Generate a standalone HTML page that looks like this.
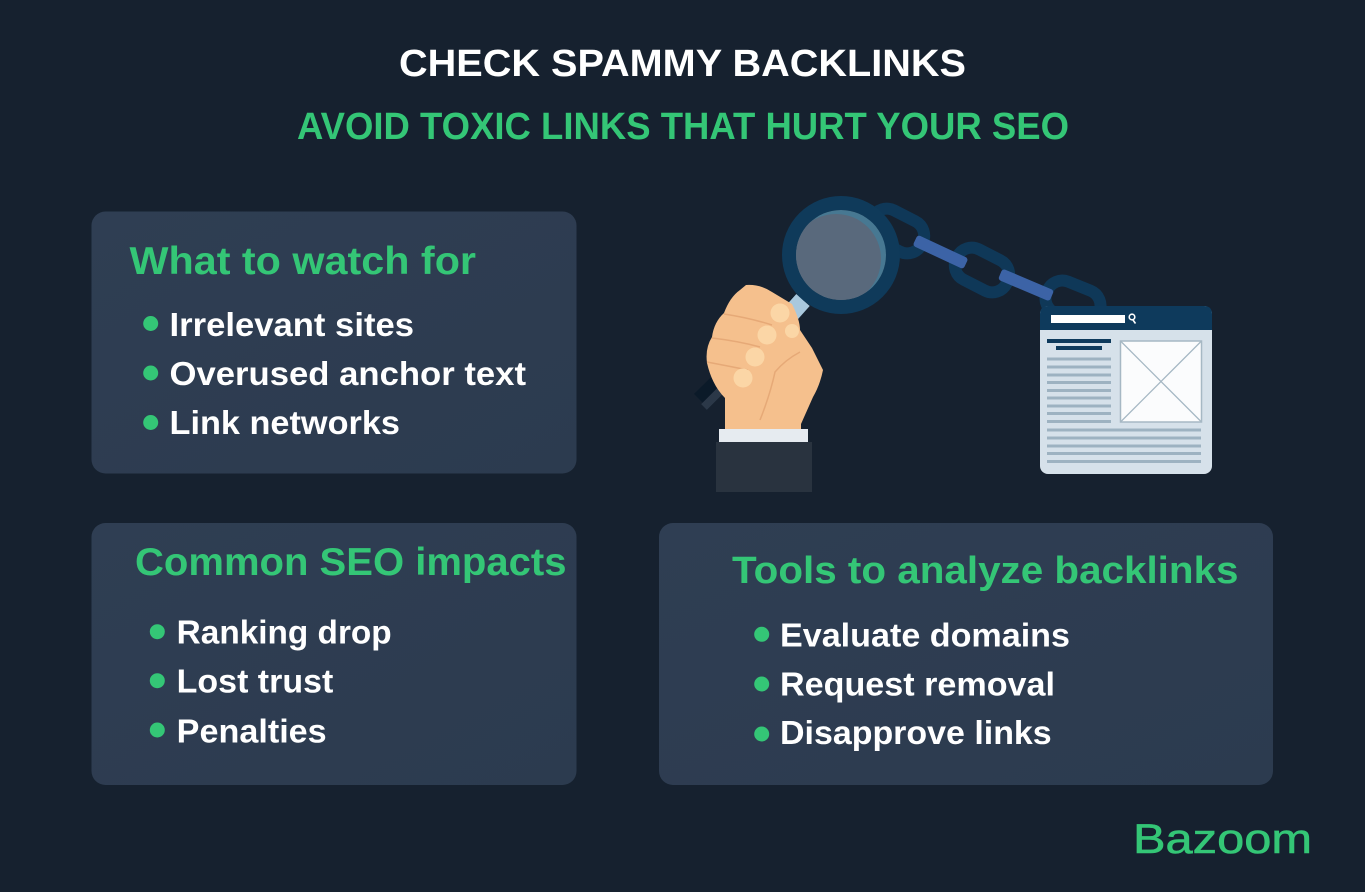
<!DOCTYPE html>
<html><head><meta charset="utf-8"><style>
html,body{margin:0;padding:0;background:#16212f;}
svg{display:block;}
text{font-family:"Liberation Sans",Arial,sans-serif;}
</style></head><body>
<svg width="1365" height="892" viewBox="0 0 1365 892" xmlns="http://www.w3.org/2000/svg">
<defs>
<linearGradient id="cg" x1="0" y1="0" x2="1" y2="1">
<stop offset="0" stop-color="#2f3e53"/><stop offset="1" stop-color="#2c3b4f"/>
</linearGradient>
<clipPath id="lensclip"><circle cx="841" cy="255" r="45"/></clipPath>
</defs>
<rect width="1365" height="892" fill="#16212f"/>

<!-- titles -->
<text x="399" y="76" font-size="38" font-weight="bold" fill="#ffffff" textLength="567" lengthAdjust="spacingAndGlyphs">CHECK SPAMMY BACKLINKS</text>
<text x="297" y="139" font-size="38" font-weight="bold" fill="#34c676" textLength="772" lengthAdjust="spacingAndGlyphs">AVOID TOXIC LINKS THAT HURT YOUR SEO</text>

<!-- cards -->
<rect x="91.5" y="211.5" width="485" height="262" rx="14" fill="url(#cg)"/>
<rect x="91.5" y="523" width="485" height="262" rx="14" fill="url(#cg)"/>
<rect x="659" y="523" width="614" height="262" rx="14" fill="url(#cg)"/>

<!-- card 1 -->
<text x="129.5" y="274" font-size="39" font-weight="bold" fill="#34c676" textLength="346.5" lengthAdjust="spacingAndGlyphs">What to watch for</text>
<circle cx="150.7" cy="323.5" r="7.5" fill="#34c676"/>
<circle cx="150.7" cy="373" r="7.5" fill="#34c676"/>
<circle cx="150.7" cy="422.5" r="7.5" fill="#34c676"/>
<text x="169.5" y="336" font-size="33" font-weight="bold" fill="#ffffff" textLength="244.5" lengthAdjust="spacingAndGlyphs">Irrelevant sites</text>
<text x="169.5" y="385" font-size="33" font-weight="bold" fill="#ffffff" textLength="356.5" lengthAdjust="spacingAndGlyphs">Overused anchor text</text>
<text x="169.5" y="434" font-size="33" font-weight="bold" fill="#ffffff" textLength="230.5" lengthAdjust="spacingAndGlyphs">Link networks</text>

<!-- card 2 -->
<text x="135" y="575" font-size="39" font-weight="bold" fill="#34c676" textLength="431.5" lengthAdjust="spacingAndGlyphs">Common SEO impacts</text>
<circle cx="157.3" cy="631.7" r="7.5" fill="#34c676"/>
<circle cx="157.3" cy="680.7" r="7.5" fill="#34c676"/>
<circle cx="157.3" cy="730" r="7.5" fill="#34c676"/>
<text x="176.7" y="643.3" font-size="33" font-weight="bold" fill="#ffffff" textLength="215" lengthAdjust="spacingAndGlyphs">Ranking drop</text>
<text x="176.7" y="692.7" font-size="33" font-weight="bold" fill="#ffffff" textLength="156.6" lengthAdjust="spacingAndGlyphs">Lost trust</text>
<text x="176.7" y="742.7" font-size="33" font-weight="bold" fill="#ffffff" textLength="150" lengthAdjust="spacingAndGlyphs">Penalties</text>

<!-- card 3 -->
<text x="732" y="583" font-size="38" font-weight="bold" fill="#34c676" textLength="506.5" lengthAdjust="spacingAndGlyphs">Tools to analyze backlinks</text>
<circle cx="761.7" cy="634.3" r="7.5" fill="#34c676"/>
<circle cx="761.7" cy="684" r="7.5" fill="#34c676"/>
<circle cx="761.7" cy="734" r="7.5" fill="#34c676"/>
<text x="780" y="646.7" font-size="33" font-weight="bold" fill="#ffffff" textLength="290" lengthAdjust="spacingAndGlyphs">Evaluate domains</text>
<text x="780" y="695.7" font-size="33" font-weight="bold" fill="#ffffff" textLength="275" lengthAdjust="spacingAndGlyphs">Request removal</text>
<text x="780" y="744" font-size="33" font-weight="bold" fill="#ffffff" textLength="271.7" lengthAdjust="spacingAndGlyphs">Disapprove links</text>

<!-- logo -->
<text x="1133" y="853" font-size="42" fill="#34c676" stroke="#34c676" stroke-width="0.6" textLength="179" lengthAdjust="spacingAndGlyphs">Bazoom</text>

<!-- ===== illustration ===== -->
<!-- chain links -->
<g fill="none" stroke="#0f3858" stroke-width="12">
<rect x="-28" y="-17" width="56" height="34" rx="16" transform="translate(897 231) rotate(27)"/>
<rect x="-28" y="-17" width="56" height="34" rx="16" transform="translate(982 270) rotate(27)"/>
<rect x="-28" y="-17" width="56" height="34" rx="16" transform="translate(1073 302) rotate(22)"/>
</g>
<!-- bars -->
<rect x="-28" y="-6" width="56" height="12" rx="3" fill="#3c63a6" transform="translate(940.5 252) rotate(25)"/>
<rect x="-28" y="-6" width="56" height="12" rx="3" fill="#3c63a6" transform="translate(1026 285) rotate(23)"/>

<!-- magnifier handle -->
<line x1="812" y1="290" x2="700" y2="400" stroke="#0b1a29" stroke-width="17"/>
<line x1="738" y1="373" x2="704" y2="407" stroke="#2b3848" stroke-width="8"/>
<line x1="803" y1="300" x2="786" y2="319" stroke="#a9c8dd" stroke-width="18"/>

<!-- lens -->
<circle cx="841" cy="255" r="52" fill="none" stroke="#0f3a5a" stroke-width="14"/>
<circle cx="841" cy="255" r="45" fill="#477892"/>
<g clip-path="url(#lensclip)"><circle cx="836" cy="259" r="45" fill="#59697c"/></g>

<!-- hand -->
<path d="M746 285 Q760 284 772 292 L792 304 Q800 320 800 330 L812 348 L823 370 Q820 385 813 397 L801 424 L801 430 L725 430 L725 398 Q712 385 707 363 Q705 348 712 337 Q714 322 724 313 Q730 297 740 290 Z" fill="#f5c08d"/>
<g stroke="#e6a977" stroke-width="1.5" fill="none">
<path d="M724 314 Q750 318 772 325"/>
<path d="M712 338 Q738 341 760 347"/>
<path d="M707 362 Q728 366 748 370"/>
<path d="M800 352 Q785 360 775 372 Q770 395 760 420"/>
</g>
<circle cx="780" cy="313" r="9.5" fill="#fbd6a6"/>
<circle cx="767" cy="335" r="9.5" fill="#fbd6a6"/>
<circle cx="755" cy="357" r="9.5" fill="#fbd6a6"/>
<circle cx="743" cy="378" r="9.5" fill="#fbd6a6"/>
<circle cx="792" cy="331" r="7" fill="#fbd6a6"/>
<rect x="719" y="429" width="89" height="13" fill="#e6ebf0"/>
<rect x="716" y="442" width="96" height="50" fill="#29333f"/>

<!-- browser window -->
<rect x="1040" y="306" width="172" height="168" rx="8" fill="#d6e1ea"/>
<path d="M1048 306 H1204 Q1212 306 1212 314 V330 H1040 V314 Q1040 306 1048 306 Z" fill="#0e3a5c"/>
<rect x="1051" y="315" width="74" height="8" fill="#ffffff"/>
<circle cx="1132" cy="317" r="2.8" fill="none" stroke="#ffffff" stroke-width="1.6"/>
<line x1="1133" y1="320" x2="1135.5" y2="323.5" stroke="#ffffff" stroke-width="1.6"/>
<rect x="1047" y="339" width="64" height="4" fill="#0e3a5c"/>
<rect x="1056" y="346" width="46" height="4" fill="#0e3a5c"/>
<g fill="#9db2c1">
<rect x="1047" y="357.5" width="64" height="3"/>
<rect x="1047" y="365.5" width="64" height="3"/>
<rect x="1047" y="373.5" width="64" height="3"/>
<rect x="1047" y="381" width="64" height="3"/>
<rect x="1047" y="389" width="64" height="3"/>
<rect x="1047" y="396.5" width="64" height="3"/>
<rect x="1047" y="404.5" width="64" height="3"/>
<rect x="1047" y="412" width="64" height="3"/>
<rect x="1047" y="420" width="64" height="3"/>
<rect x="1047" y="428.5" width="154" height="3"/>
<rect x="1047" y="436.5" width="154" height="3"/>
<rect x="1047" y="444.5" width="154" height="3"/>
<rect x="1047" y="452" width="154" height="3"/>
<rect x="1047" y="460" width="154" height="3"/>
</g>
<rect x="1120.5" y="341" width="81" height="81" fill="#fbfcfd" stroke="#a6b8c4" stroke-width="1.5"/>
<line x1="1121" y1="341.5" x2="1201" y2="421.5" stroke="#a6b8c4" stroke-width="1.3"/>
<line x1="1201" y1="341.5" x2="1121" y2="421.5" stroke="#a6b8c4" stroke-width="1.3"/>
</svg>
</body></html>
